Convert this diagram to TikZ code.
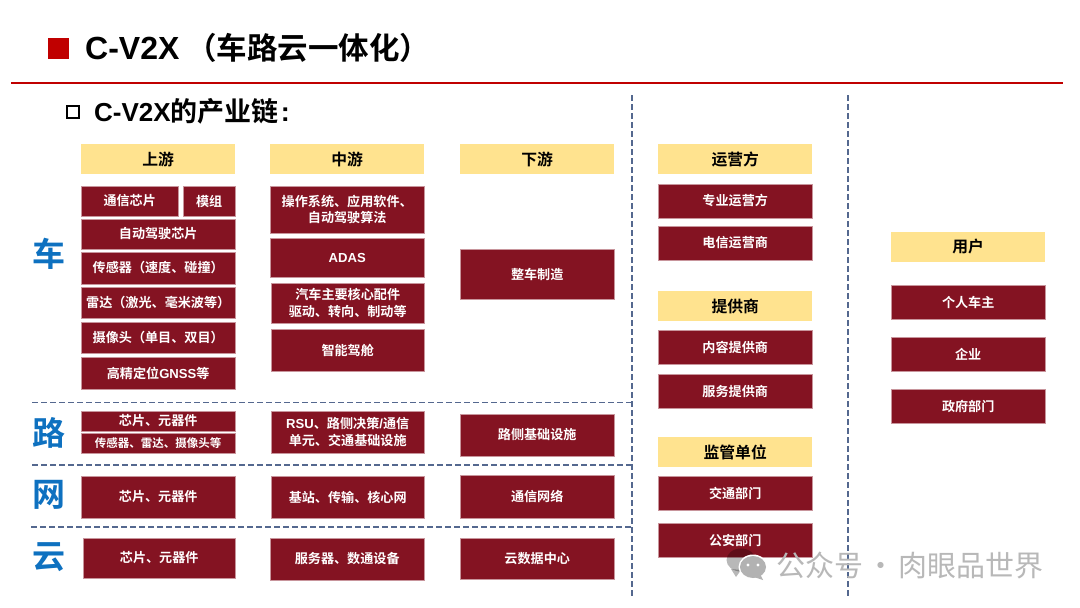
\documentclass[tikz,border=0pt]{standalone}
\usepackage{fontspec}
\setmainfont{Noto Sans CJK SC}[BoldFont={Noto Sans CJK SC Bold}]
\newfontfamily\latf{Liberation Sans}[BoldFont={Liberation Sans Bold}]
\definecolor{wine}{HTML}{841322}
\definecolor{hdr}{HTML}{FFE38F}
\definecolor{redm}{HTML}{C00000}
\definecolor{dashc}{HTML}{54688F}
\definecolor{sideb}{HTML}{0E71C0}
\tikzset{
  cellbox/.style={fill=wine,draw=wine!45!white,line width=0.4pt,text=white,font=\fontsize{13.1}{16.5}\selectfont\bfseries,align=center,inner sep=0pt},
  headbox/.style={fill=hdr,text=black,font=\fontsize{15.8}{18}\selectfont\bfseries,align=center,inner sep=0pt},
  sidech/.style={text=sideb,font=\fontsize{33}{36}\selectfont\bfseries,inner sep=0pt},
  divh/.style={dashc,line width=1.05pt,dash pattern=on 5.5pt off 3.5pt},
  divv/.style={dashc,line width=1.05pt,dash pattern=on 5.5pt off 3.5pt},
}
% name, style, x1, y1, x2, y2, text
\newcommand{\bx}[7]{%
  \pgfmathsetmacro{\bw}{#5-#3-0.6}\pgfmathsetmacro{\bh}{#6-#4}%
  \pgfmathsetmacro{\bcx}{(#3+#5-0.6)/2}\pgfmathsetmacro{\bcy}{(#4+#6)/2}%
  \node[#2,minimum width=\bw pt,minimum height=\bh pt] (#1) at (\bcx,\bcy) {#7};}
\begin{document}
\begin{tikzpicture}[x=1pt,y=-1pt]
\useasboundingbox (0,0) rectangle (1080,608);
\fill[white] (0,0) rectangle (1080,608);
% title
\node[fill=redm,minimum size=21pt,inner sep=0pt] (tsq) at (58.5,48.5) {};
\node[anchor=west,inner sep=0pt,font=\fontsize{30.5}{36}\selectfont\bfseries] (title) at (85,47.5) {{\latf\fontsize{32}{36}\selectfont C-V2X}\hspace{7pt}（车路云一体化）};
\coordinate (rl) at (11,83); \coordinate (rr) at (1063,83);
\draw[redm,line width=1.5pt] (rl) -- (rr);
\node[draw=black,line width=2pt,minimum size=12pt,inner sep=0pt] (ssq) at (73,112) {};
\node[anchor=west,inner sep=0pt,font=\fontsize{27}{30}\selectfont\bfseries] (sub) at (94,111) {{\latf\fontsize{26}{30}\selectfont C-V2X}的产业链{\latf\hspace{2pt}:}};
% dividers
\coordinate (d1l) at (32,402.5); \coordinate (d2l) at (32,465); \coordinate (d3l) at (31,527);
\coordinate (d1r) at (632,402.5); \coordinate (d2r) at (632,465); \coordinate (d3r) at (632,527);
\coordinate (v1t) at (632,95); \coordinate (v1b) at (632,596);
\coordinate (v2t) at (848,95); \coordinate (v2b) at (848,596);
\draw[divh] (d1l) -- (d1r);
\draw[divh] (d2l) -- (d2r);
\draw[divh] (d3l) -- (d3r);
\draw[divv] (v1t) -- (v1b);
\draw[divv] (v2t) -- (v2b);
% side labels
\node[sidech] (che) at (49,254) {车};
\node[sidech] (lu) at (49,433) {路};
\node[sidech] (wang) at (49,495) {网};
\node[sidech] (yun) at (49,557) {云};
% headers
\bx{h1}{headbox}{81}{144}{236}{174}{上游}
\bx{h2}{headbox}{270}{144}{425}{174}{中游}
\bx{h3}{headbox}{460}{144}{615}{174}{下游}
\bx{h4}{headbox}{658}{144}{813}{174}{运营方}
\bx{h5}{headbox}{658}{291}{813}{321}{提供商}
\bx{h6}{headbox}{658}{437}{813}{467}{监管单位}
\bx{h7}{headbox}{891}{232}{1046}{262}{用户}
% upstream
\bx{a1}{cellbox}{81}{186}{179}{216}{通信芯片}
\bx{a2}{cellbox}{183}{186}{236}{216}{模组}
\bx{a3}{cellbox}{81}{219}{236}{249}{自动驾驶芯片}
\bx{a4}{cellbox}{81}{252}{236}{284}{传感器（速度、碰撞）}
\bx{a5}{cellbox}{81}{287}{236}{318}{雷达（激光、毫米波等）}
\bx{a6}{cellbox}{81}{322}{236}{353}{摄像头（单目、双目）}
\bx{a7}{cellbox}{81}{357}{236}{389}{高精定位{\latf GNSS}等}
% midstream
\bx{b1}{cellbox}{270}{186}{425}{233}{操作系统、应用软件、\\自动驾驶算法}
\bx{b2}{cellbox}{270}{238}{425}{277}{\latf ADAS}
\bx{b3}{cellbox}{271}{283}{425}{323}{汽车主要核心配件\\驱动、转向、制动等}
\bx{b4}{cellbox}{271}{329}{425}{371}{智能驾舱}
% downstream
\bx{c1}{cellbox}{460}{249}{615}{299}{整车制造}
% road
\bx{d1}{cellbox}{81}{411}{236}{431}{芯片、元器件}
\bx{d2}{cellbox,font=\fontsize{11.5}{14}\selectfont\bfseries}{81}{433}{236}{453}{传感器、雷达、摄像头等}
\bx{d3}{cellbox}{271}{411}{425}{453}{{\latf RSU}、路侧决策{\latf /}通信\\单元、交通基础设施}
\bx{d4}{cellbox}{460}{414}{615}{456}{路侧基础设施}
% network
\bx{e1}{cellbox}{81}{476}{236}{518}{芯片、元器件}
\bx{e2}{cellbox}{271}{476}{425}{518}{基站、传输、核心网}
\bx{e3}{cellbox}{460}{475}{615}{518}{通信网络}
% cloud
\bx{f1}{cellbox}{83}{538}{236}{578}{芯片、元器件}
\bx{f2}{cellbox}{270}{538}{425}{580}{服务器、数通设备}
\bx{f3}{cellbox}{460}{538}{615}{579}{云数据中心}
% operators
\bx{g1}{cellbox}{658}{184}{813}{218}{专业运营方}
\bx{g2}{cellbox}{658}{226}{813}{260}{电信运营商}
\bx{g3}{cellbox}{658}{330}{813}{364}{内容提供商}
\bx{g4}{cellbox}{658}{374}{813}{408}{服务提供商}
\bx{g5}{cellbox}{658}{476}{813}{510}{交通部门}
\bx{g6}{cellbox}{658}{523}{813}{557}{公安部门}
% users
\bx{u1}{cellbox}{891}{285}{1046}{319}{个人车主}
\bx{u2}{cellbox}{891}{337}{1046}{371}{企业}
\bx{u3}{cellbox}{891}{389}{1046}{423}{政府部门}
% watermark
\begin{scope}[black,opacity=0.28]
\fill (741,560) ellipse (14.5pt and 11.5pt);
\fill (731,569) -- (736,577) -- (741,570) -- cycle;
\end{scope}
\fill[white] (753,567) ellipse (14.5pt and 12.5pt);
\fill[black!30] (753,567) ellipse (13pt and 11pt);
\fill[black!30] (760,574) -- (763,580) -- (754,577) -- cycle;
\fill[white] (748,565) circle (1.6pt) (758,565) circle (1.6pt);
\node[anchor=west,inner sep=0pt,text=black!28,font=\fontsize{29}{30}\selectfont] (wm) at (776,565) {公众号\hspace{3pt}·\hspace{3pt}肉眼品世界};
\end{tikzpicture}
\end{document}
